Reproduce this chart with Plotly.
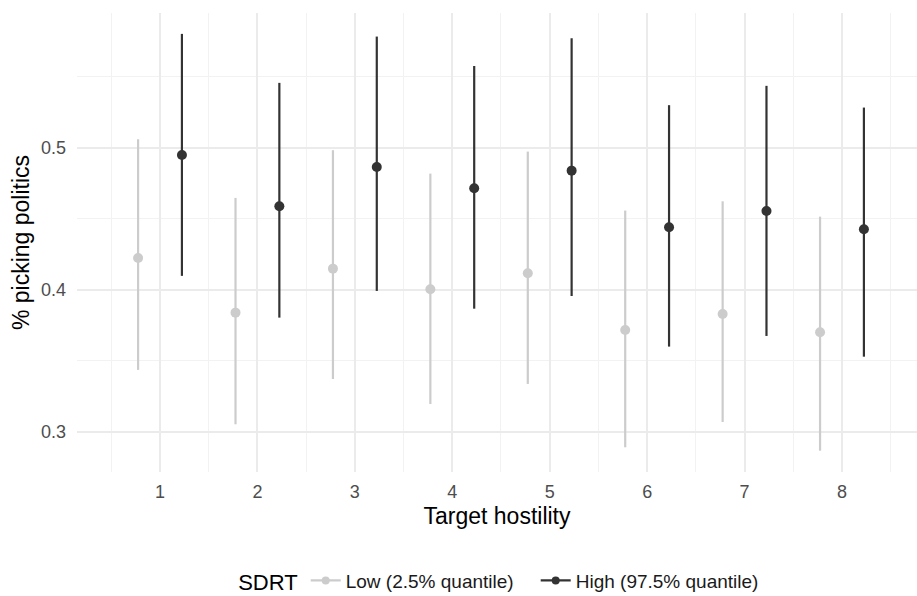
import plotly.graph_objects as go

hostility = [1, 2, 3, 4, 5, 6, 7, 8]
tick_labels = ["1", "2", "3", "4", "5", "6", "7", "8"]

low_est = [0.4225, 0.384, 0.415, 0.4005, 0.4117, 0.3718, 0.3831, 0.3702]
low_lo = [0.3437, 0.3054, 0.3373, 0.3197, 0.3338, 0.2892, 0.3070, 0.2868]
low_hi = [0.5061, 0.4648, 0.4984, 0.4819, 0.4974, 0.4559, 0.4624, 0.4516]

high_est = [0.4950, 0.4589, 0.4866, 0.4716, 0.4840, 0.4441, 0.4556, 0.4427]
high_lo = [0.4099, 0.3805, 0.3993, 0.3868, 0.3958, 0.3601, 0.3676, 0.3530]
high_hi = [0.5803, 0.5458, 0.5784, 0.5577, 0.5772, 0.5301, 0.5437, 0.5284]

group_names = ["Low (2.5% quantile)", "High (97.5% quantile)"]
group_colors = ["#CCCCCC", "#333333"]
dodge = 0.45

FONT = "Liberation Sans, Arial, sans-serif"

fig = go.Figure()

groups = [(low_est, low_lo, low_hi), (high_est, high_lo, high_hi)]
for i, (est, lo, hi) in enumerate(groups):
    offset = (i - 0.5) * dodge
    xs = [h + offset for h in hostility]
    fig.add_trace(go.Scatter(
        x=xs, y=est, mode="markers",
        marker=dict(color=group_colors[i], size=10),
        error_y=dict(type="data", symmetric=False,
                     array=[h - e for h, e in zip(hi, est)],
                     arrayminus=[e - l for e, l in zip(est, lo)],
                     width=0, thickness=2.2, color=group_colors[i]),
        showlegend=False, name=group_names[i],
    ))
    # legend entry (line + point glyph)
    fig.add_trace(go.Scatter(
        x=[None], y=[None], mode="lines+markers",
        line=dict(color=group_colors[i], width=2.2),
        marker=dict(color=group_colors[i], size=8),
        name=group_names[i], showlegend=True,
    ))

fig.update_layout(
    width=917, height=596,
    margin=dict(l=77, r=0, t=13, b=124, autoexpand=False),
    paper_bgcolor="white", plot_bgcolor="white",
    font=dict(family=FONT, color="#000000"),
    showlegend=True,
    legend=dict(
        orientation="h", x=0.505, xanchor="center",
        yref="container", y=0.025, yanchor="middle",
        title=dict(text="SDRT", side="left", font=dict(size=22, color="#000000")),
        font=dict(size=19, color="#1a1a1a"),
        itemwidth=30,
        entrywidth=185, entrywidthmode="pixels",
    ),
)

fig.update_xaxes(
    range=[0.148, 8.77], automargin=False,
    tickmode="array", tickvals=hostility, ticktext=tick_labels,
    ticks="", showline=False, zeroline=False,
    showgrid=True, gridcolor="#EBEBEB", gridwidth=2,
    minor=dict(dtick=0.5, tick0=0.5, showgrid=True, gridcolor="#F2F2F2", gridwidth=1.2),
    tickfont=dict(size=18, color="#4D4D4D"),
    ticklabelstandoff=7,
    title=dict(text="Target hostility", font=dict(size=23, color="#000000"), standoff=6),
)
fig.update_yaxes(
    range=[0.2718, 0.595], automargin=False,
    tickmode="array", tickvals=[0.3, 0.4, 0.5], ticktext=["0.3", "0.4", "0.5"],
    ticks="", showline=False, zeroline=False,
    showgrid=True, gridcolor="#EBEBEB", gridwidth=2,
    minor=dict(tickmode="array", tickvals=[0.35, 0.45, 0.55], showgrid=True,
               gridcolor="#F2F2F2", gridwidth=1.2),
    tickfont=dict(size=18, color="#4D4D4D"),
    ticklabelstandoff=10,
    title=dict(text="% picking politics", font=dict(size=23, color="#000000"), standoff=4),
)

fig.write_html("out.html")
